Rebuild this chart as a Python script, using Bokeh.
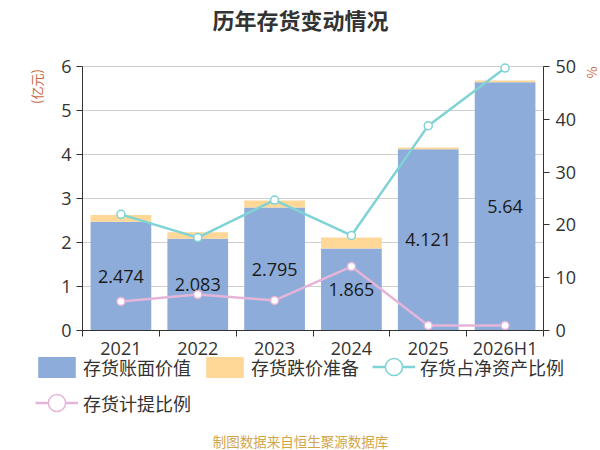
import math
from bokeh.plotting import figure
from bokeh.models import (Range1d, LinearAxis, FixedTicker, Legend, Label,
                          LegendItem, ColumnDataSource)
from bokeh.embed import file_html
from bokeh.resources import INLINE
from bokeh.core.properties import value

# ---------------- data ----------------
categories = ["2021", "2022", "2023", "2024", "2025", "2026H1"]
book_value = [2.474, 2.083, 2.795, 1.865, 4.121, 5.64]          # 亿元
provision = [0.15, 0.15, 0.16, 0.25, 0.04, 0.04]                 # 亿元
inv_to_net_assets = [22.0, 17.6, 24.7, 18.0, 38.8, 49.7]          # %
provision_ratio = [5.5, 6.8, 5.7, 12.1, 0.95, 0.95]              # %
left_ticks = [0, 1, 2, 3, 4, 5, 6]
right_ticks = [0, 10, 20, 30, 40, 50]

title_text = "历年存货变动情况"
footer_text = "制图数据来自恒生聚源数据库"
series_names = ["存货账面价值", "存货跌价准备", "存货占净资产比例", "存货计提比例"]

# ---------------- style ----------------
FONT = "Noto Sans CJK SC"
NUM = "Open Sans"
C_BLUE = "#8dacd9"
C_ORANGE = "#ffd797"
C_TEAL = "#7fd3d4"
C_PINK = "#e5b5d9"
TXT = "#333333"

W, H = 600, 450
# plot area (canvas pixels)
FL, FR, FT, FB = 82, 543, 66, 330

n = len(categories)
PXU = (FR - FL) / n
LMAX = left_ticks[-1]
RMAX = right_ticks[-1]
PYU = (FB - FT) / LMAX
PYU2 = (FB - FT) / RMAX
X0 = -0.5 - FL / PXU
YTOP = LMAX + FT / PYU

def cx(px):
    return X0 + px / PXU
def cy(py):
    return YTOP - py / PYU

xs = list(range(n))
src = ColumnDataSource(dict(
    x=xs,
    book=book_value,
    total=[b + q for b, q in zip(book_value, provision)],
    mid=[b / 2 for b in book_value],
    label=[str(b) for b in book_value],
    r1=inv_to_net_assets,
    r2=provision_ratio,
))

p = figure(width=W, height=H, output_backend="svg", toolbar_location=None,
           x_range=Range1d(cx(0), cx(W)), y_range=Range1d(cy(H), cy(0)),
           min_border=0)
p.outline_line_color = None
p.extra_y_ranges = {"pct": Range1d(-(H - FB) / PYU2, RMAX + FT / PYU2)}

bw = 0.79
r_book = p.vbar(x="x", width=bw, bottom=0, top="book", source=src,
                fill_color=C_BLUE, line_color=None)
r_prov = p.vbar(x="x", width=bw, bottom="book", top="total", source=src,
                fill_color=C_ORANGE, line_color=None)

p.text(x="x", y="mid", text="label", source=src, text_align="center",
       text_baseline="middle", text_font=value(NUM), text_font_size="18px",
       text_color="#1a1a1a")

l1 = p.line(x="x", y="r1", source=src, y_range_name="pct",
            line_color=C_TEAL, line_width=2.5)
s1 = p.scatter(x="x", y="r1", source=src, y_range_name="pct", size=8,
               fill_color="white", line_color=C_TEAL, line_width=1.5)
l2 = p.line(x="x", y="r2", source=src, y_range_name="pct",
            line_color=C_PINK, line_width=2.5)
s2 = p.scatter(x="x", y="r2", source=src, y_range_name="pct", size=8,
               fill_color="white", line_color=C_PINK, line_width=1.5)

def style_axis(ax):
    ax.axis_line_color = "#333333"
    ax.major_tick_line_color = "#333333"
    ax.minor_tick_line_color = "#333333"
    ax.major_tick_in = 0
    ax.minor_tick_in = 0
    ax.major_label_text_font = NUM
    ax.major_label_text_font_size = "18px"
    ax.major_label_text_color = TXT

xa = p.xaxis[0]
style_axis(xa)
xa.ticker = FixedTicker(ticks=xs, minor_ticks=[i - 0.5 for i in range(n + 1)])
xa.major_label_overrides = {i: c for i, c in zip(xs, categories)}
xa.major_tick_out = 0
xa.minor_tick_out = 6
xa.major_label_standoff = -1
xa.fixed_location = 0
xa.bounds = (-0.5, n - 0.5)

ya = p.yaxis[0]
style_axis(ya)
ya.ticker = FixedTicker(ticks=left_ticks)
ya.major_tick_out = 6
ya.minor_tick_out = 0
ya.major_label_standoff = 5
ya.fixed_location = -0.5
ya.bounds = (0, LMAX)

ra = LinearAxis(y_range_name="pct", ticker=FixedTicker(ticks=right_ticks))
style_axis(ra)
ra.major_tick_out = 6
ra.minor_tick_out = 0
ra.major_label_standoff = 6
ra.fixed_location = n - 0.5
ra.bounds = (0, RMAX)
p.add_layout(ra, "right")

p.xgrid.visible = False
p.ygrid.ticker = FixedTicker(ticks=left_ticks)
p.ygrid.grid_line_color = "#cfcfcf"
p.ygrid.bounds = (0, LMAX)
p.ygrid.cross_bounds = (-0.5, n - 0.5)

# legends (positions in pixels from the bottom-left of the canvas)
def mk_legend(items, loc, gw, gh, standoff):
    lg = Legend(items=items, location=loc, orientation="horizontal",
                glyph_height=gh, glyph_width=gw, label_standoff=standoff,
                spacing=10, padding=0, margin=0, border_line_color=None,
                background_fill_alpha=0, label_text_font=FONT,
                label_text_font_size="18px", label_text_color=TXT,
                label_height=gh)
    p.add_layout(lg)
    return lg

mk_legend([LegendItem(label=series_names[0], renderers=[r_book]),
           LegendItem(label=series_names[1], renderers=[r_prov])],
          (33, 70), 47, 26, 3)
mk_legend([LegendItem(label=series_names[2], renderers=[l1, s1])],
          (372, 62), 43, 43, 5)
mk_legend([LegendItem(label=series_names[3], renderers=[l2, s2])],
          (35, 26), 43, 43, 5)

# title, footer, axis names
p.add_layout(Label(x=cx(300), y=cy(18), text=title_text, text_align="center",
                   text_baseline="middle", text_font=FONT, text_font_size="22px",
                   text_font_style="bold", text_color=TXT))
p.add_layout(Label(x=cx(300), y=cy(440), text=footer_text, text_align="center",
                   text_baseline="middle", text_font=FONT, text_font_size="13.5px",
                   text_color="#d4a548"))
p.add_layout(Label(x=cx(36), y=cy(86), text="(亿元)", text_align="center",
                   text_baseline="middle", angle=math.pi / 2, text_font=FONT,
                   text_font_size="13px", text_color="#c9683f"))
p.add_layout(Label(x=cx(591), y=cy(72), text="%", text_align="center",
                   text_baseline="middle", angle=math.pi / 2, text_font=FONT,
                   text_font_size="13px", text_color="#c9683f"))

open("out.html", "w").write(file_html(p, INLINE))
